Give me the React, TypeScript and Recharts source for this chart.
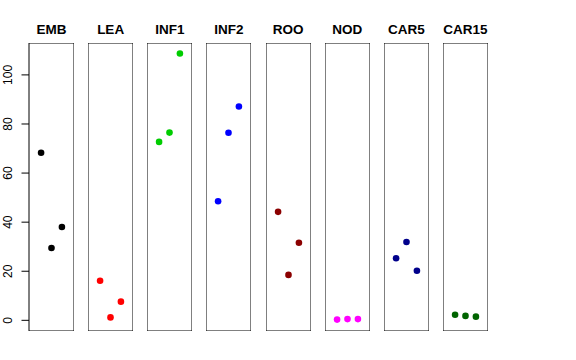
import { ScatterChart, Scatter, XAxis, YAxis, ReferenceArea } from "recharts";

// tissue panels, left to right
const tissues = ["EMB", "LEA", "INF1", "INF2", "ROO", "NOD", "CAR5", "CAR15"];
const colors = ["#000000", "#FF0000", "#00CD00", "#0000FF", "#8B0000", "#FF00FF", "#00008B", "#006400"];

// three replicates per tissue
const emb = [68.3, 29.5, 38.0];
const lea = [16.1, 1.2, 7.6];
const inf1 = [72.7, 76.5, 108.7];
const inf2 = [48.5, 76.4, 87.1];
const roo = [44.2, 18.5, 31.6];
const nod = [0.3, 0.5, 0.5];
const car5 = [25.3, 31.9, 20.2];
const car15 = [2.3, 1.8, 1.5];

const values = [emb, lea, inf1, inf2, roo, nod, car5, car15];
const yTicks = [0, 20, 40, 60, 80, 100];

const Y_DOMAIN: [number, number] = [-4.35, 113];
const X_DOMAIN: [number, number] = [-0.16, 4.16];

const PANEL_TOP = 43;
const PANEL_H = 288;
const PANEL_W = 45;
const FIRST_LEFT = 29;
const PITCH = 59.14;
const AXIS_W = 29;

const font = '"Liberation Sans", Arial, Helvetica, sans-serif';

const Tick = ({ y, payload }: any) => (
  <text
    x={12}
    y={y}
    transform={`rotate(-90 12 ${y})`}
    textAnchor="middle"
    fontSize={12}
    fontFamily={font}
    fill="#000"
  >
    {payload.value}
  </text>
);

const Panel = ({ idx }: { idx: number }) => {
  const first = idx === 0;
  const data = values[idx].map((v, i) => ({ x: i + 1, y: v }));
  const left = FIRST_LEFT + idx * PITCH - (first ? AXIS_W : 0);
  return (
    <div style={{ position: "absolute", left, top: PANEL_TOP }}>
      <ScatterChart
        width={PANEL_W + (first ? AXIS_W : 0)}
        height={PANEL_H}
        margin={{ top: 0, right: 0, bottom: 0, left: 0 }}
      >
        <XAxis type="number" dataKey="x" domain={X_DOMAIN} hide />
        <YAxis
          type="number"
          dataKey="y"
          domain={Y_DOMAIN}
          ticks={yTicks}
          hide={!first}
          width={first ? AXIS_W : 0}
          axisLine={false}
          tickSize={7.5}
          tickLine={{ stroke: "#000" }}
          tick={<Tick />}
          interval={0}
        />
        <ReferenceArea
          x1={X_DOMAIN[0]}
          x2={X_DOMAIN[1]}
          y1={Y_DOMAIN[0]}
          y2={Y_DOMAIN[1]}
          fill="none"
          fillOpacity={0}
          stroke="#000"
          strokeWidth={1}
          ifOverflow="visible"
        />
        <Scatter
          data={data}
          isAnimationActive={false}
          shape={(p: any) => <circle cx={p.cx} cy={p.cy} r={3.3} fill={colors[idx]} />}
        />
      </ScatterChart>
    </div>
  );
};

export default function App() {
  return (
    <div style={{ position: "absolute", left: 0, top: 0, width: 576, height: 360, background: "#fff" }}>
      <svg width={576} height={360} style={{ position: "absolute", left: 0, top: 0 }}>
        {tissues.map((t, i) => (
          <text
            key={t}
            x={FIRST_LEFT + i * PITCH + PANEL_W / 2}
            y={34}
            textAnchor="middle"
            fontSize={13.5}
            fontWeight="bold"
            fontFamily={font}
            fill="#000"
          >
            {t}
          </text>
        ))}
      </svg>
      {tissues.map((t, i) => (
        <Panel key={t} idx={i} />
      ))}
    </div>
  );
}
